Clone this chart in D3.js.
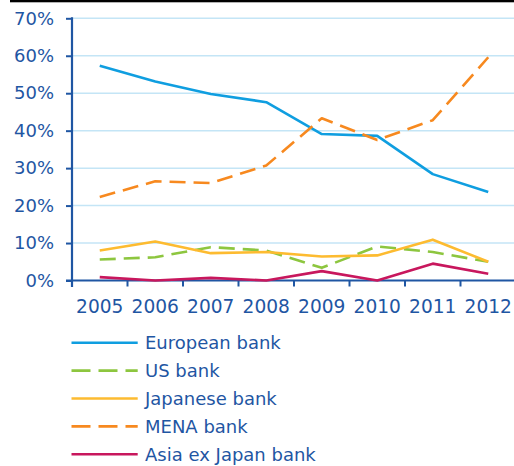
<!DOCTYPE html>
<html>
<head>
<meta charset="utf-8">
<script src="https://cdn.jsdelivr.net/npm/d3@7/dist/d3.min.js"></script>
<style>
  html, body { margin: 0; padding: 0; background: #fff; }
  svg { display: block; }
  text { font-family: "DejaVu Sans", Verdana, sans-serif; fill: #1f56a3; }
</style>
</head>
<body>
<svg id="chart" width="514" height="466"></svg>
<script>
// Share of deals by bank origin, 2005–2012 (percent)
const years = ["2005", "2006", "2007", "2008", "2009", "2010", "2011", "2012"];
const yTicks = [0, 10, 20, 30, 40, 50, 60, 70];

const european = [57.3, 53.1, 49.8, 47.6, 39.1, 38.6, 28.4, 23.6];
const usBank   = [5.6, 6.2, 8.9, 8.0, 3.4, 9.1, 7.6, 5.0];
const japanese = [8.0, 10.4, 7.3, 7.6, 6.4, 6.7, 10.9, 5.0];
const mena     = [22.3, 26.5, 26.0, 30.7, 43.3, 37.5, 42.8, 59.6];
const asiaExJp = [0.9, 0.0, 0.7, 0.0, 2.5, 0.0, 4.5, 1.8];

const seriesNames = ["European bank", "US bank", "Japanese bank", "MENA bank", "Asia ex Japan bank"];
const seriesValues = [european, usBank, japanese, mena, asiaExJp];
const seriesColors = ["#0f9ee0", "#8dc63f", "#fdbb30", "#f7891f", "#c8175d"];
const seriesDashed = [false, true, false, true, false];

const svg = d3.select("#chart");
const axisColor = "#1f56a3";

const x = d3.scaleBand().domain(years).range([72, 516]);
const y = d3.scaleLinear().domain([0, 70]).range([280.5, 18.3]);

// top rule
svg.append("rect").attr("x", 10).attr("y", 0).attr("width", 504).attr("height", 2.3).attr("fill", "#000");

// horizontal gridlines
svg.append("g").selectAll("line")
  .data(yTicks.filter(d => d > 0))
  .join("line")
  .attr("x1", 72).attr("x2", 514)
  .attr("y1", d => y(d)).attr("y2", d => y(d))
  .attr("stroke", "#c4e5f6").attr("stroke-width", 1.5);

// y axis
const yAxis = svg.append("g").attr("transform", "translate(72,0)")
  .call(d3.axisLeft(y).tickValues(yTicks).tickFormat(d => d + "%").tickSize(6).tickPadding(12));
yAxis.select(".domain").remove();
yAxis.selectAll(".tick line").attr("stroke", axisColor).attr("stroke-width", 2);
yAxis.selectAll(".tick text").attr("font-size", 18).attr("fill", axisColor)
  .style("font-family", '"DejaVu Sans", Verdana, sans-serif');
svg.append("line").attr("x1", 72).attr("x2", 72).attr("y1", y(70) - 1).attr("y2", 287)
  .attr("stroke", axisColor).attr("stroke-width", 2.2);

// x axis: baseline, boundary ticks, centred labels
svg.append("line").attr("x1", 66).attr("x2", 514).attr("y1", y(0)).attr("y2", y(0))
  .attr("stroke", axisColor).attr("stroke-width", 2.2);
svg.append("g").selectAll("line")
  .data(years.slice(1))
  .join("line")
  .attr("x1", d => x(d)).attr("x2", d => x(d))
  .attr("y1", y(0)).attr("y2", y(0) + 6)
  .attr("stroke", axisColor).attr("stroke-width", 2);
svg.append("g").selectAll("text")
  .data(years)
  .join("text")
  .attr("x", d => x(d) + x.bandwidth() / 2)
  .attr("y", 312.5)
  .attr("text-anchor", "middle")
  .attr("font-size", 18.6)
  .text(d => d);

// series lines
const line = d3.line()
  .x((d, i) => x(years[i]) + x.bandwidth() / 2)
  .y(d => y(d));

const order = [0, 3, 1, 2, 4];
svg.append("g").selectAll("path")
  .data(order)
  .join("path")
  .attr("d", i => line(seriesValues[i]))
  .attr("fill", "none")
  .attr("stroke", i => seriesColors[i])
  .attr("stroke-width", 2.6)
  .attr("stroke-linejoin", "round")
  .attr("stroke-dasharray", i => seriesDashed[i] ? "16,8" : null);

// legend
const legend = svg.append("g").selectAll("g")
  .data(seriesNames)
  .join("g")
  .attr("transform", (d, i) => `translate(0,${342.7 + i * 27.9})`);
legend.append("line")
  .attr("x1", 71.5).attr("x2", 137.7).attr("y1", 0).attr("y2", 0)
  .attr("stroke", (d, i) => seriesColors[i])
  .attr("stroke-width", 2.6)
  .attr("stroke-dasharray", (d, i) => seriesDashed[i] ? "19,8" : null);
legend.append("text")
  .attr("x", 145).attr("y", 0).attr("dy", "0.36em")
  .attr("font-size", 18)
  .text(d => d);
</script>
</body>
</html>
